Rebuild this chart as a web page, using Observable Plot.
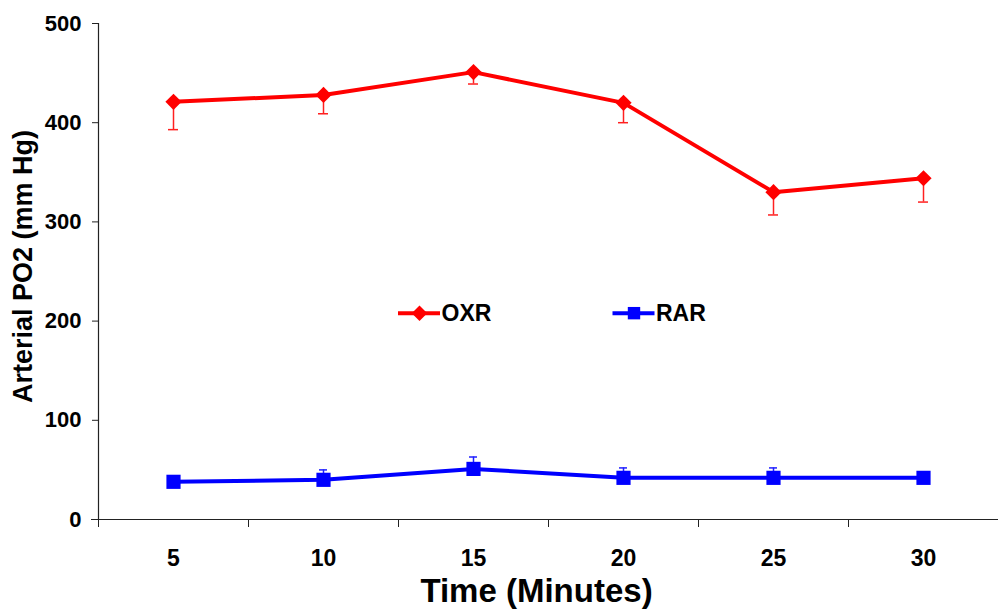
<!DOCTYPE html>
<html><head><meta charset="utf-8">
<script src="https://cdn.jsdelivr.net/npm/d3@7"></script>
<script src="https://cdn.jsdelivr.net/npm/@observablehq/plot@0.6"></script>
<style>
body{margin:0;background:#fff}
#chart{width:998px;height:612px}
</style>
</head><body><div id="chart"></div>
<script>
// ---- data ----
const times = [5, 10, 15, 20, 25, 30];
const oxr = [421, 428, 451, 420, 330, 344];
const oxrErr = [28, 19, 12, 20, 23, 24];   // minus error bars
const rar = [38, 40, 51, 42, 42, 42];
const rarErr = [4, 10, 12, 10, 10, 5];     // plus error bars
const yTicks = [0, 100, 200, 300, 400, 500];
const xBoundaries = [2.5, 7.5, 12.5, 17.5, 22.5, 27.5, 32.5];
const seriesNames = ["OXR", "RAR"];
const seriesColors = ["#ff0000", "#0000ff"];
const legendX = [13.2, 20.35];
const legendY = 208;
const xTitle = "Time (Minutes)";
const yTitle = "Arterial PO2 (mm Hg)";

const oxrData = times.map((t, i) => ({t, v: oxr[i], lo: oxr[i] - oxrErr[i], hi: oxr[i]}));
const rarData = times.map((t, i) => ({t, v: rar[i], lo: rar[i], hi: rar[i] + rarErr[i]}));
const legend = seriesNames.map((n, i) => ({name: n, color: seriesColors[i], x: legendX[i], y: legendY, sym: i === 0 ? "diamond2" : "square"}));

const sans = "'Liberation Sans', Arial, Helvetica, sans-serif";

const chart = Plot.plot({
  width: 998,
  height: 612,
  marginLeft: 98,
  marginRight: 0,
  marginTop: 23,
  marginBottom: 93,
  style: {fontFamily: sans, background: "#fff", overflow: "visible"},
  x: {type: "linear", domain: [2.5, 32.5]},
  y: {domain: [0, 500]},
  marks: [
    // axes lines
    Plot.ruleX([2.5], {stroke: "#222", strokeWidth: 1.2}),
    Plot.ruleY([0], {stroke: "#222", strokeWidth: 1.2, insetLeft: -7}),
    Plot.axisY({ticks: yTicks, tickSize: 6, tickPadding: 11, fontSize: 22, fontWeight: "bold", fontFamily: sans, color: "#000", stroke: "#222", label: null}),
    Plot.axisX({ticks: xBoundaries, tickSize: 8, tickFormat: () => "", label: null, stroke: "#222"}),
    Plot.axisX({ticks: times, tickSize: 0, tickPadding: 30, fontSize: 23, fontWeight: "bold", fontFamily: sans, label: null, color: "#000"}),
    Plot.text([xTitle], {frameAnchor: "bottom", dy: 82, dx: -12, fontSize: 33, fontWeight: "bold", fontFamily: sans, fill: "#000"}),
    Plot.text([yTitle], {frameAnchor: "left", textAnchor: "middle", rotate: -90, dx: -75, dy: -5, fontSize: 27, fontWeight: "bold", fontFamily: sans, fill: "#000"}),
    // error bars
    Plot.ruleX(oxrData, {x: "t", y1: "lo", y2: "hi", stroke: "#ff2020", strokeWidth: 1.5}),
    Plot.ruleY(oxrData, {y: "lo", x1: "t", x2: "t", insetLeft: -5, insetRight: -5, stroke: "#ff2020", strokeWidth: 1.5}),
    Plot.ruleX(rarData, {x: "t", y1: "lo", y2: "hi", stroke: "#2020ff", strokeWidth: 1.5}),
    Plot.ruleY(rarData, {y: "hi", x1: "t", x2: "t", insetLeft: -4, insetRight: -4, stroke: "#2020ff", strokeWidth: 1.5}),
    // lines
    Plot.line(oxrData, {x: "t", y: "v", stroke: seriesColors[0], strokeWidth: 4}),
    Plot.line(rarData, {x: "t", y: "v", stroke: seriesColors[1], strokeWidth: 4}),
    Plot.dot(oxrData, {x: "t", y: "v", symbol: "diamond2", r: 7.3, fill: seriesColors[0], stroke: "none"}),
    Plot.dot(rarData, {x: "t", y: "v", symbol: "square", r: 8, fill: seriesColors[1], stroke: "none"}),
    // legend
    Plot.ruleY(legend, {y: "y", x1: "x", x2: "x", insetLeft: -21, insetRight: -21, stroke: "color", strokeWidth: 4}),
    Plot.dot(legend, {x: "x", y: "y", symbol: "sym", r: 7, fill: "color", stroke: "none"}),
    Plot.text(legend, {x: "x", y: "y", text: "name", dx: 22, textAnchor: "start", fontSize: 23, fontWeight: "bold", fontFamily: sans, fill: "#000"})
  ]
});
document.getElementById("chart").appendChild(chart);
</script>
</body></html>
